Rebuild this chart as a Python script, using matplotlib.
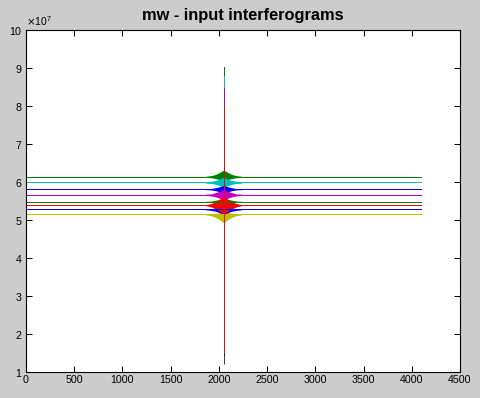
import numpy as np
import matplotlib
matplotlib.use("Agg")
import matplotlib.pyplot as plt
from matplotlib.ticker import ScalarFormatter

# ==========================================================
# DATA  (values in units of 1e7)
# ==========================================================

N_SAMPLES = 4096
CENTER    = 2050

# drawing order (last one on top)
COLORS = [
    (0.0, 0.5, 0.0),     # green
    (0.0, 0.75, 0.75),   # cyan
    (0.0, 0.0, 1.0),     # blue
    (0.75, 0.0, 0.75),   # magenta
    (0.0, 0.5, 0.0),     # green
    (0.75, 0.75, 0.0),   # yellow
    (0.25, 0.25, 0.25),  # black
    (0.0, 0.0, 1.0),     # blue
    (1.0, 0.0, 0.0),     # red
]
BASELINES    = [6.13, 5.99, 5.81, 5.66, 5.48, 5.16, 5.385, 5.28, 5.39]
SPIKE_TOP    = [9.03, 8.80, 7.60, 8.47, 8.00, 6.00, 6.50, 6.20, 7.95]
SPIKE_BOTTOM = [4.20, 4.30, 3.80, 4.10, 3.90, 1.20, 1.24, 1.45, 1.50]

# centre-burst envelope: offsets in samples from the ZPD, amplitudes above / below baseline
BURST_OFFSETS = [-190, -125, -85, -50, -22, 0, 22, 50, 85, 125, 190]
BURST_UP = [
    [0.02, 0.04, 0.07, 0.11, 0.15, 0.19, 0.15, 0.11, 0.07, 0.04, 0.02],
    [0.02, 0.03, 0.05, 0.08, 0.11, 0.14, 0.11, 0.08, 0.05, 0.03, 0.02],
    [0.01, 0.02, 0.04, 0.06, 0.08, 0.10, 0.08, 0.06, 0.04, 0.02, 0.01],
    [0.02, 0.03, 0.06, 0.09, 0.12, 0.15, 0.12, 0.09, 0.06, 0.03, 0.02],
    [0.01, 0.02, 0.04, 0.06, 0.08, 0.10, 0.08, 0.06, 0.04, 0.02, 0.01],
    [0.00, 0.01, 0.02, 0.03, 0.04, 0.05, 0.04, 0.03, 0.02, 0.01, 0.00],
    [0.00, 0.01, 0.02, 0.03, 0.04, 0.05, 0.04, 0.03, 0.02, 0.01, 0.00],
    [0.01, 0.02, 0.04, 0.06, 0.08, 0.10, 0.08, 0.06, 0.04, 0.02, 0.01],
    [0.01, 0.05, 0.09, 0.14, 0.19, 0.24, 0.19, 0.14, 0.09, 0.05, 0.01],
]
BURST_DOWN = [
    [0.01, 0.02, 0.04, 0.06, 0.08, 0.10, 0.08, 0.06, 0.04, 0.02, 0.01],
    [0.02, 0.03, 0.05, 0.08, 0.11, 0.14, 0.11, 0.08, 0.05, 0.03, 0.02],
    [0.01, 0.02, 0.04, 0.06, 0.08, 0.10, 0.08, 0.06, 0.04, 0.02, 0.01],
    [0.01, 0.03, 0.05, 0.08, 0.11, 0.14, 0.11, 0.08, 0.05, 0.03, 0.01],
    [0.01, 0.02, 0.03, 0.05, 0.07, 0.09, 0.07, 0.05, 0.03, 0.02, 0.01],
    [0.02, 0.05, 0.09, 0.14, 0.19, 0.24, 0.19, 0.14, 0.09, 0.05, 0.02],
    [0.00, 0.01, 0.02, 0.03, 0.04, 0.05, 0.04, 0.03, 0.02, 0.01, 0.00],
    [0.01, 0.03, 0.05, 0.08, 0.11, 0.15, 0.11, 0.08, 0.05, 0.03, 0.01],
    [0.01, 0.05, 0.09, 0.14, 0.19, 0.25, 0.19, 0.14, 0.09, 0.05, 0.01],
]

X_TICKS = [0, 500, 1000, 1500, 2000, 2500, 3000, 3500, 4000, 4500]
Y_TICKS = [1, 2, 3, 4, 5, 6, 7, 8, 9, 10]
SCALE   = 1e7

# ==========================================================
# Plot
# ==========================================================

plt.rcParams["font.family"] = ["Liberation Sans", "DejaVu Sans"]

fig = plt.figure(figsize=(4.8, 3.98), dpi=100, facecolor="#cccccc")
ax = fig.add_axes([26 / 480, 26 / 398, 434 / 480, 342 / 398])
ax.set_facecolor("white")

offs = np.array(BURST_OFFSETS)
for i, color in enumerate(COLORS):
    base = BASELINES[i] * SCALE
    up   = np.array(BURST_UP[i]) * SCALE
    dn   = np.array(BURST_DOWN[i]) * SCALE
    ax.fill_between(CENTER + offs, base - dn, base + up, color=color, lw=0, antialiased=False)
    xs = [1, CENTER, CENTER, CENTER, CENTER, N_SAMPLES]
    ys = [base, base, SPIKE_TOP[i] * SCALE, SPIKE_BOTTOM[i] * SCALE, base, base]
    ax.plot(xs, ys, color=color, lw=0.55, antialiased=False)

ax.set_xlim(0, 4500)
ax.set_ylim(1 * SCALE, 10 * SCALE)
ax.set_xticks(X_TICKS)
ax.set_yticks([v * SCALE for v in Y_TICKS])

fmt = ScalarFormatter(useMathText=True)
fmt.set_powerlimits((7, 7))
ax.yaxis.set_major_formatter(fmt)
ax.yaxis.get_offset_text().set_fontsize(7.5)

ax.tick_params(direction="in", length=4, width=0.75, top=True, right=True,
               labelsize=7.7, pad=2.5)
for sp in ax.spines.values():
    sp.set_linewidth(0.8)

ax.set_title("mw - input interferograms", fontsize=11.8, fontweight="bold", pad=7)

fig.savefig("out.png", dpi=100, facecolor=fig.get_facecolor())
